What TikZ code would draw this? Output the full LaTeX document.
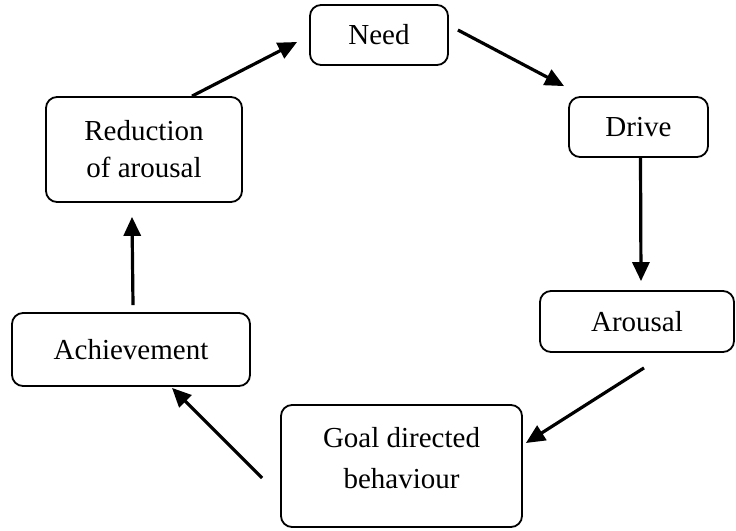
\documentclass[tikz,border=0pt]{standalone}
\usepackage{fontspec}
\setmainfont{Liberation Serif}
\usetikzlibrary{arrows.meta}
\begin{document}
\begin{tikzpicture}[x=1pt,y=-1pt,
  box/.style={draw, line width=1.8pt, rounded corners=11pt, inner sep=0pt, align=center,
    font=\fontsize{29}{37}\selectfont},
  lbl/.style={inner sep=0pt, align=center, font=\fontsize{29}{41}\selectfont},
  flow/.style={line width=3.2pt, -{Triangle[length=19pt,width=17pt]}}]
\useasboundingbox (0,0) rectangle (736,530);
\node[box, minimum width=138pt, minimum height=60pt] (need) at (379,35) {Need};
\node[box, minimum width=139pt, minimum height=60pt] (drive) at (638.5,127) {Drive};
\node[box, minimum width=194pt, minimum height=61pt] (arousal) at (637,321.5) {Arousal};
\node[box, minimum width=241pt, minimum height=122pt] (goal) at (401.5,466) {};
\node[lbl] (goaltext) at ([yshift=8pt]goal.center) {Goal directed\\behaviour};
\node[box, minimum width=238pt, minimum height=73pt] (ach) at (131,349.5) {Achievement};
\node[box, minimum width=196pt, minimum height=105pt] (red) at (144,149.5) {Reduction\\of arousal};
\draw[flow] ([xshift=48pt]red.north) -- ([xshift=-12pt,yshift=-7pt]need.west);
\draw[flow] ([xshift=9pt,yshift=5pt]need.east) -- ([xshift=-4pt,yshift=10pt]drive.north west);
\draw[flow] ([xshift=2pt]drive.south) -- ([xshift=4pt,yshift=9pt]arousal.north);
\draw[flow] ([xshift=7pt,yshift=-15pt]arousal.south) -- ([xshift=3pt,yshift=23pt]goal.east);
\draw[flow] ([xshift=-18pt,yshift=-12pt]goal.west) -- ([xshift=41pt,yshift=-1pt]ach.south);
\draw[flow] ([xshift=2pt,yshift=7pt]ach.north) -- ([xshift=-12pt,yshift=-14pt]red.south);
\end{tikzpicture}
\end{document}
